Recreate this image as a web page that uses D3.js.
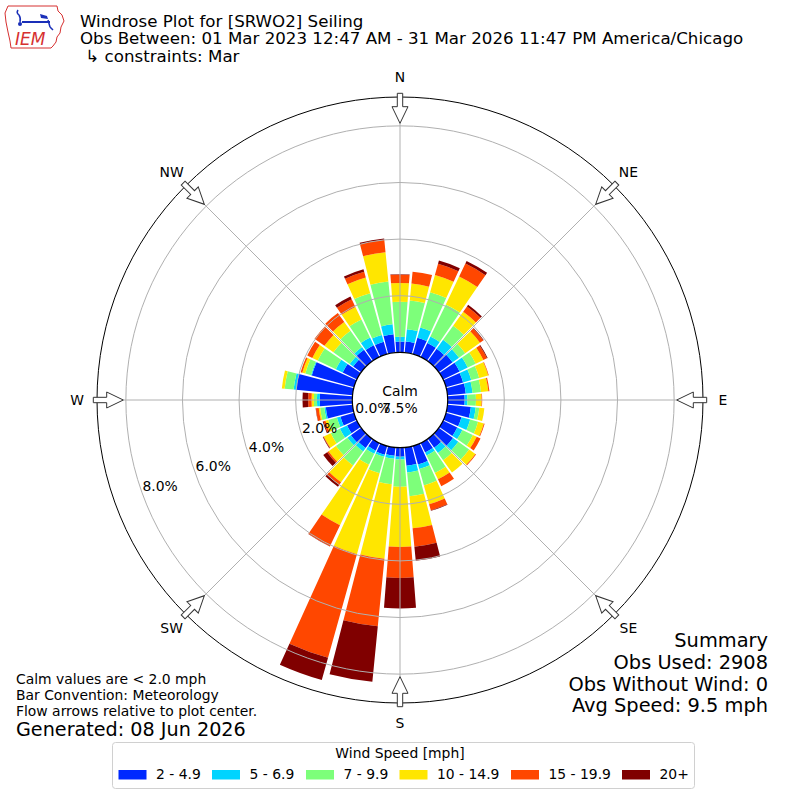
<!DOCTYPE html>
<html><head><meta charset="utf-8">
<script src="https://cdn.jsdelivr.net/npm/d3@7"></script>
<style>body{margin:0;background:#fff} text{font-family:"DejaVu Sans",sans-serif}</style>
</head><body><svg id="c" width="800" height="800"></svg>
<script>
// ---- data ----
const directions = d3.range(0, 360, 10);
const speedBins = ["2 - 4.9", "5 - 6.9", "7 - 9.9", "10 - 14.9", "15 - 19.9", "20+"];
const binColors = ["#0029ff", "#00d4ff", "#7dff7a", "#ffe600", "#ff4700", "#800000"];
// percent of observations per direction (0,10,...,350) for each speed bin
const spd2to5   = [0.38,0.39,0.60,0.55,0.54,0.60,0.65,0.63,0.65,0.60,0.83,0.57,0.56,0.62,0.39,0.37,0.68,0.65,0.32,0.29,0.32,0.30,0.40,0.45,0.39,0.50,0.95,1.15,2.00,1.55,0.56,0.35,0.50,0.46,0.45,0.65];
const spd5to7   = [0.17,0.44,0.37,0.25,0.39,0.28,0.32,0.30,0.24,0.10,0.17,0.32,0.20,0.23,0.23,0.12,0.17,0.24,0.10,0.11,0.08,0.12,0.15,0.15,0.28,0.13,0.05,0.10,0.09,0.03,0.27,0.15,0.12,0.30,0.25,0.35];
const spd7to10  = [1.24,1.02,1.30,1.26,0.61,0.27,0.31,0.29,0.30,0.30,0.13,0.29,0.41,0.47,0.31,0.68,0.60,0.84,0.96,0.91,0.60,0.43,0.61,0.50,0.36,0.32,0.15,0.11,0.32,0.21,0.71,0.71,0.70,0.71,1.53,1.52];
const spd10to15 = [0.66,0.60,0.63,1.09,0.61,0.64,0.30,0.33,0.26,0.20,0.18,0.21,0.15,0.27,0.54,0.25,0.69,1.14,2.13,2.64,2.97,2.37,0.73,0.32,0.27,0.10,0.05,0.08,0.10,0.11,0.21,0.39,0.38,0.49,0.58,1.04];
const spd15to20 = [0.29,0.42,0.41,0.51,0.23,0.14,0.14,0.02,0.04,0.02,0.00,0.03,0.15,0.03,0.00,0.27,0.22,0.65,1.09,2.40,3.80,0.82,0.11,0.06,0.02,0.07,0.10,0.12,0.00,0.06,0.20,0.43,0.39,0.30,0.21,0.44];
const spd20plus = [0.02,0.00,0.12,0.10,0.07,0.02,0.03,0.00,0.00,0.00,0.00,0.00,0.00,0.00,0.00,0.00,0.02,0.50,1.08,1.97,0.82,0.01,0.08,0.17,0.02,0.03,0.01,0.20,0.00,0.00,0.00,0.00,0.00,0.11,0.09,0.05];
const series = [spd2to5, spd5to7, spd7to10, spd10to15, spd15to20, spd20plus];
const rTicks = [0, 2, 4, 6, 8];
const rTickLabels = ["0.0%", "2.0%", "4.0%", "6.0%", "8.0%"];
const compass = [["N",0],["NE",45],["E",90],["SE",135],["S",180],["SW",225],["W",270],["NW",315]];
const calmPct = "7.5%";
const titleLines = ["Windrose Plot for [SRWO2] Seiling",
  "Obs Between: 01 Mar 2023 12:47 AM - 31 Mar 2026 11:47 PM America/Chicago",
  " \u21b3 constraints: Mar"];
const noteLines = ["Calm values are < 2.0 mph", "Bar Convention: Meteorology", "Flow arrows relative to plot center."];
const generated = "Generated: 08 Jun 2026";
const summaryLines = ["Summary", "Obs Used: 2908", "Obs Without Wind: 0", "Avg Speed: 9.5 mph"];
const legendTitle = "Wind Speed [mph]";

// ---- drawing ----
const svg = d3.select("#c");
const cx = 400, cy = 400;
const r = d3.scaleLinear().domain([0, 9.02]).range([47.7, 303]);
const rad = d => d * Math.PI / 180;
const g = svg.append("g").attr("transform", `translate(${cx},${cy})`);

// bars
const halfW = 4.4;
directions.forEach((dir, i) => {
  let cum = 0;
  series.forEach((s, k) => {
    const v = s[i];
    if (v <= 0) return;
    const arc = d3.arc().innerRadius(r(cum)).outerRadius(r(cum + v))
      .startAngle(rad(dir - halfW)).endAngle(rad(dir + halfW));
    g.append("path").attr("d", arc()).attr("fill", binColors[k]);
    cum += v;
  });
});

// grid
rTicks.slice(1).forEach(t => {
  g.append("circle").attr("r", r(t)).attr("fill", "none").attr("stroke", "#b0b0b0").attr("stroke-width", 1);
});
compass.forEach(([_, b]) => {
  g.append("line").attr("x1", 0).attr("y1", 0)
    .attr("x2", r(9.02) * Math.sin(rad(b))).attr("y2", -r(9.02) * Math.cos(rad(b)))
    .attr("stroke", "#b0b0b0").attr("stroke-width", 1);
});
g.append("circle").attr("r", r(9.02)).attr("fill", "none").attr("stroke", "#000").attr("stroke-width", 1);

// calm circle
g.append("circle").attr("r", r(0)).attr("fill", "#fff").attr("stroke", "#000").attr("stroke-width", 1.2);
g.append("text").attr("x", 0).attr("y", -4).attr("text-anchor", "middle").attr("font-size", 13.9).text("Calm");
g.append("text").attr("x", 0).attr("y", 13).attr("text-anchor", "middle").attr("font-size", 13.9).text(calmPct);

// radial tick labels along bearing 250
const lb = rad(250);
rTicks.forEach((t, i) => {
  g.append("text").attr("x", r(t) * Math.sin(lb)).attr("y", -r(t) * Math.cos(lb) - 3)
    .attr("font-size", 13.9).text(rTickLabels[i]);
});

// arrows and compass labels
const arrowPath = "M-2.7,-306.7 L2.7,-306.7 L2.7,-293.3 L8,-293.3 L0,-276.7 L-8,-293.3 L-2.7,-293.3 Z";
compass.forEach(([lab, b]) => {
  g.append("path").attr("d", arrowPath).attr("transform", `rotate(${b})`)
    .attr("fill", "#fff").attr("stroke", "#333").attr("stroke-width", 1);
  g.append("text").attr("x", 323 * Math.sin(rad(b))).attr("y", -323 * Math.cos(rad(b)))
    .attr("text-anchor", "middle").attr("dominant-baseline", "central").attr("font-size", 13.9).text(lab);
});

// title
titleLines.forEach((t, i) => {
  svg.append("text").attr("x", 80).attr("y", 26.5 + i * 17.6).attr("font-size", 16.67)
    .style("white-space", "pre").text(t);
});

// logo
const logo = svg.append("g");
logo.append("path").attr("d", "M8,6 L57,6 L58,11 L62,15 L64,21 L61,27 L60,33 L57,37 L56,42 L53,46 L51,48 L11,48 L10,41 L8,32 L6,22 L5,13 Z")
  .attr("fill", "#fff").attr("stroke", "#d63030").attr("stroke-width", 1);
logo.append("path").attr("d", "M18,10 Q16,13 19,15 Q21,18 20,22").attr("fill", "none").attr("stroke", "#1a2fb8").attr("stroke-width", 1.5);
logo.append("circle").attr("cx", 20).attr("cy", 24).attr("r", 2).attr("fill", "#1a2fb8");
logo.append("line").attr("x1", 22).attr("y1", 22).attr("x2", 50).attr("y2", 22).attr("stroke", "#1a2fb8").attr("stroke-width", 2);
logo.append("path").attr("d", "M40,14 L47,16 L48,19 L41,18 Z").attr("fill", "#1a2fb8");
logo.append("path").attr("d", "M48,20 L50,27 M50,27 L53,30").attr("stroke", "#1a2fb8").attr("stroke-width", 1.5).attr("fill", "none");
logo.append("text").attr("x", 15).attr("y", 45).attr("font-family", "Liberation Serif, serif").attr("font-style", "italic")
  .attr("font-size", 17).attr("fill", "#d63030").text("IEM");

// notes
noteLines.forEach((t, i) => {
  svg.append("text").attr("x", 16).attr("y", 684 + i * 16).attr("font-size", 13.9).text(t);
});
svg.append("text").attr("x", 16).attr("y", 736).attr("font-size", 19.2).text(generated);

// summary
summaryLines.forEach((t, i) => {
  svg.append("text").attr("x", 768).attr("y", 647 + i * 21.8).attr("text-anchor", "end").attr("font-size", 19.4).text(t);
});

// legend
const lg = svg.append("g");
lg.append("rect").attr("x", 112.5).attr("y", 742.5).attr("width", 582).attr("height", 46).attr("rx", 3)
  .attr("fill", "#fff").attr("stroke", "#d0d0d0");
lg.append("text").attr("x", 400).attr("y", 758).attr("text-anchor", "middle").attr("font-size", 13.9).text(legendTitle);
const legendX = [118.5, 212, 306, 399.5, 511, 622];
speedBins.forEach((b, k) => {
  lg.append("rect").attr("x", legendX[k]).attr("y", 770).attr("width", 28).attr("height", 9.5).attr("fill", binColors[k]);
  lg.append("text").attr("x", legendX[k] + 37.5).attr("y", 779).attr("font-size", 13.9).text(b);
});
</script></body></html>
